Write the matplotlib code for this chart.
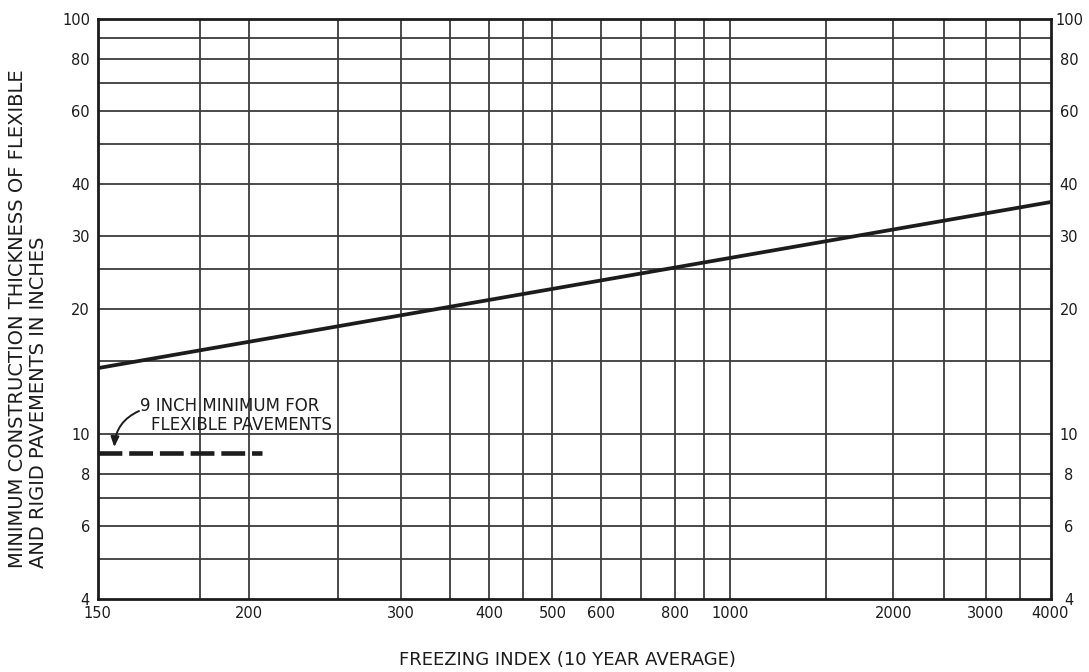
import numpy as np
import matplotlib
matplotlib.use("Agg")
import matplotlib.pyplot as plt
from matplotlib.ticker import FixedLocator, FixedFormatter, NullFormatter, NullLocator

# ---- data -------------------------------------------------------------
# design line: minimum construction thickness vs. freezing index
freezing_index = [150, 4000]
thickness = [14.4, 36.2]

# 9 inch minimum for flexible pavements
min_flex_index = [150, 206]
min_flex_thickness = [9, 9]

x_tick_values = [150, 200, 300, 400, 500, 600, 800, 1000, 2000, 3000, 4000]
x_tick_labels = ["150", "200", "300", "400", "500", "600", "800", "1000",
                 "2000", "3000", "4000"]
x_grid_values = [180, 200, 250, 300, 350, 400, 450, 500, 600, 700, 800, 900,
                 1000, 1500, 2000, 2500, 3000, 3500]

y_tick_values = [4, 6, 8, 10, 20, 30, 40, 60, 80, 100]
y_tick_labels = ["4", "6", "8", "10", "20", "30", "40", "60", "80", "100"]
y_grid_values = [5, 6, 7, 8, 10, 15, 20, 25, 30, 40, 50, 60, 70, 80, 90]

# ---- freezing-index scale: logarithmic in (index - 100) ----------------
FI_SHIFT = 100.0


def fi_forward(x):
    x = np.asarray(x, dtype=float)
    return np.log(np.clip(x - FI_SHIFT, 1e-6, None))


def fi_inverse(u):
    return np.exp(np.asarray(u, dtype=float)) + FI_SHIFT


INK = "#1c1c1c"
GRID = "#3c3c3c"
W, H = 1089, 672

fig = plt.figure(figsize=(W / 100, H / 100), dpi=100, facecolor="white")
left, right, top, bottom = 97.5, 1050.5, 19, 599
ax = fig.add_axes([left / W, 1 - bottom / H, (right - left) / W, (bottom - top) / H])

ax.set_xscale("function", functions=(fi_forward, fi_inverse))
ax.set_yscale("log")
ax.set_xlim(150, 4000)
ax.set_ylim(4, 100)

ax.xaxis.set_major_locator(FixedLocator(x_tick_values))
ax.xaxis.set_major_formatter(FixedFormatter(x_tick_labels))
ax.xaxis.set_minor_locator(NullLocator())

ax.yaxis.set_major_locator(FixedLocator(y_tick_values))
ax.yaxis.set_major_formatter(FixedFormatter(y_tick_labels))
ax.yaxis.set_minor_locator(NullLocator())
ax.yaxis.set_minor_formatter(NullFormatter())

# ruled grid
for v in x_grid_values:
    ax.axvline(v, color=GRID, lw=1.3, zorder=1)
for v in y_grid_values:
    ax.axhline(v, color=GRID, lw=1.3, zorder=1)

for s in ax.spines.values():
    s.set_linewidth(2.0)
    s.set_color(INK)

ax.tick_params(which="both", length=0, colors=INK)
ax.tick_params(axis="x", which="major", labelsize=10.5, pad=5)
ax.tick_params(axis="y", which="major", labelsize=10.5, pad=5.4)

# thickness scale repeated on the right, labels centred in the margin
sec = ax.secondary_yaxis("right")
sec.yaxis.set_major_locator(FixedLocator(y_tick_values))
sec.yaxis.set_major_formatter(FixedFormatter(y_tick_labels))
sec.yaxis.set_minor_locator(NullLocator())
sec.tick_params(which="both", length=0, labelsize=10.5, pad=13.3, colors=INK)
sec.spines["right"].set_visible(False)
for lab in sec.get_yticklabels():
    lab.set_horizontalalignment("center")

# design line
ax.plot(freezing_index, thickness, color=INK, lw=2.7, solid_capstyle="butt", zorder=3)

# 9 inch minimum, dashed
ax.plot(min_flex_index, min_flex_thickness, color=INK, lw=3.3,
        linestyle=(0, (5.2, 1.5)), dash_capstyle="butt", zorder=3)

# note and pointer
fig.text(140 / W, 1 - 406 / H, "9 INCH MINIMUM FOR", fontsize=12,
         color=INK, ha="left", va="center")
fig.text(151 / W, 1 - 425 / H, "FLEXIBLE PAVEMENTS", fontsize=12,
         color=INK, ha="left", va="center")
ax.annotate("", xy=(154, 9.3), xycoords="data",
            xytext=(139, H - 411), textcoords="figure pixels",
            arrowprops=dict(arrowstyle="-|>,head_length=0.6,head_width=0.25",
                            color=INK, lw=1.4,
                            connectionstyle="arc3,rad=0.3",
                            shrinkA=0, shrinkB=0))

# axis titles
fig.text(567 / W, 1 - 660 / H, "FREEZING INDEX (10 YEAR AVERAGE)",
         fontsize=13, color=INK, ha="center", va="center")
fig.text(17.5 / W, 1 - 568 / H, "MINIMUM CONSTRUCTION THICKNESS OF FLEXIBLE",
         fontsize=14, color=INK, rotation=90, ha="center", va="bottom")
fig.text(38 / W, 1 - 568 / H, "AND RIGID PAVEMENTS IN INCHES",
         fontsize=14, color=INK, rotation=90, ha="center", va="bottom")

fig.savefig("out.png", dpi=100, facecolor="white")
